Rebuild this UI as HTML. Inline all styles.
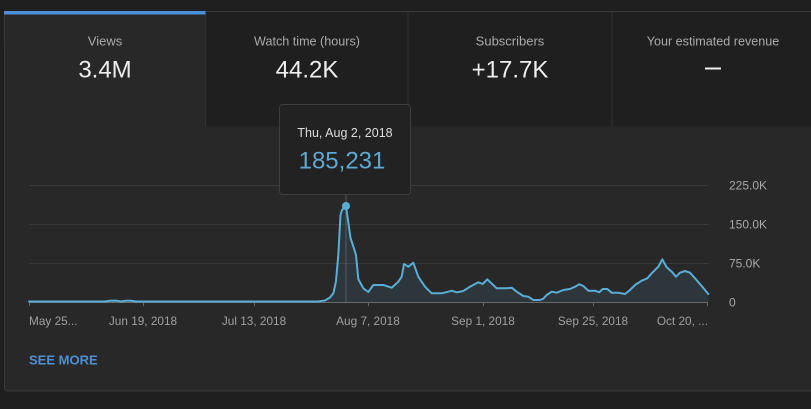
<!DOCTYPE html>
<html>
<head>
<meta charset="utf-8">
<style>
  html,body{margin:0;padding:0;background:#1f1f1f;width:811px;height:409px;overflow:hidden;}
  svg{display:block;}
  text{font-family:"Liberation Sans",Arial,sans-serif;}
</style>
</head>
<body>
<svg width="811" height="409" viewBox="0 0 811 409" xmlns="http://www.w3.org/2000/svg">
  <rect x="0" y="0" width="811" height="409" fill="#1f1f1f"/>
  <!-- card -->
  <rect x="4.5" y="11.5" width="830" height="379.5" rx="3" fill="#282828" stroke="#3a3a3a" stroke-width="1"/>
  <!-- inactive tabs -->
  <rect x="206" y="12" width="610" height="114.5" fill="#1f1f1f"/>
  <line x1="205.5" y1="12" x2="205.5" y2="126" stroke="#303030"/>
  <line x1="408" y1="12" x2="408" y2="126" stroke="#333"/>
  <line x1="612" y1="12" x2="612" y2="126" stroke="#333"/>
  <!-- active bar -->
  <rect x="4" y="11" width="201.5" height="3.5" fill="#4a8fd8"/>

  <!-- tab text -->
  <g text-anchor="middle">
    <text x="105" y="45.5" font-size="13" fill="#aaaaaa">Views</text>
    <text x="105" y="77.5" font-size="24" fill="#eeeeee">3.4M</text>
    <text x="307" y="45.5" font-size="12.6" fill="#aaaaaa">Watch time (hours)</text>
    <text x="307" y="77.5" font-size="24" fill="#eeeeee">44.2K</text>
    <text x="510" y="45.5" font-size="13" fill="#aaaaaa">Subscribers</text>
    <text x="510" y="77.5" font-size="24" fill="#eeeeee">+17.7K</text>
    <text x="713" y="45.5" font-size="12.6" fill="#aaaaaa">Your estimated revenue</text>
  </g>
  <rect x="705" y="67.5" width="16" height="2" fill="#eeeeee"/>

  <!-- gridlines -->
  <g stroke="#3a3a3a" stroke-width="1">
    <line x1="29" y1="185.5" x2="708" y2="185.5"/>
    <line x1="29" y1="224.5" x2="708" y2="224.5"/>
    <line x1="29" y1="263.5" x2="708" y2="263.5"/>
  </g>
  <!-- y labels -->
  <g font-size="12" fill="#a8a8a8">
    <text x="729" y="189.5">225.0K</text>
    <text x="729" y="228.5">150.0K</text>
    <text x="729" y="267.5">75.0K</text>
    <text x="729" y="306.5">0</text>
  </g>

  <!-- tooltip guide line -->
  <line x1="346" y1="195" x2="346" y2="302" stroke="#555" stroke-width="1"/>

  <!-- area -->
  <path fill="rgba(88,170,211,0.11)" stroke="none" d="M29,302 L29,301.5 L105,301.5 L110,300.8 L116,300.6 L121,301.5 L126,300.8 L131,300.8 L136,301.5 L318,301.5 L325,300.5 L330,297.5 L333.5,293 L336,281 L338.3,255 L340.5,215 L342,210 L346,206 L348,220 L350.5,238 L353.5,247 L356,255 L358.3,279 L363.3,288.3 L368.3,292 L373.3,285 L383.3,285 L391.7,287.7 L398.3,281.7 L401.7,276.7 L404,264 L408.3,266.7 L413.3,262.7 L418.3,276.7 L425,286.7 L431.7,293.3 L441.7,293.3 L448.3,291.7 L451.7,290.7 L456.7,292.3 L463.3,291 L470,286.7 L478.3,282.3 L482.7,284 L487.3,279.3 L496.7,288.3 L506.7,288.3 L511.7,287.7 L516.7,291.7 L523.3,296 L528.3,296.7 L533.3,300 L540,300 L543.3,298.7 L546.7,295 L551.7,291.7 L556.7,292.7 L563.3,290 L570,289 L575,286.7 L579.3,284.3 L583.3,286 L588.3,290.7 L595,290.7 L599.3,292.3 L602.7,289 L607.3,289 L611.7,292.7 L618.3,292.7 L625,294 L630,290 L635,285 L641.7,280.7 L647.3,278.3 L651.7,273.3 L658.3,266.7 L662.3,259.3 L666.7,267.3 L671.7,271.7 L676,276.7 L680,272.7 L685,271 L690,272.7 L695,278.3 L701.7,286 L708.3,294 L708.3,302 Z"/>

  <!-- baseline -->
  <line x1="29" y1="302.5" x2="708" y2="302.5" stroke="#6a6a6a" stroke-width="1"/>
  <g stroke="#666" stroke-width="1">
    <line x1="29.5" y1="302" x2="29.5" y2="306"/>
    <line x1="143.5" y1="302" x2="143.5" y2="306"/>
    <line x1="254.5" y1="302" x2="254.5" y2="306"/>
    <line x1="368.5" y1="302" x2="368.5" y2="306"/>
    <line x1="483.5" y1="302" x2="483.5" y2="306"/>
    <line x1="593.5" y1="302" x2="593.5" y2="306"/>
    <line x1="707.5" y1="302" x2="707.5" y2="306"/>
  </g>

  <!-- line -->
  <path fill="none" stroke="#5aaed6" stroke-width="2" stroke-linejoin="round" stroke-linecap="round" d="M29,301.5 L105,301.5 L110,300.8 L116,300.6 L121,301.5 L126,300.8 L131,300.8 L136,301.5 L318,301.5 L325,300.5 L330,297.5 L333.5,293 L336,281 L338.3,255 L340.5,215 L342,210 L346,206 L348,220 L350.5,238 L353.5,247 L356,255 L358.3,279 L363.3,288.3 L368.3,292 L373.3,285 L383.3,285 L391.7,287.7 L398.3,281.7 L401.7,276.7 L404,264 L408.3,266.7 L413.3,262.7 L418.3,276.7 L425,286.7 L431.7,293.3 L441.7,293.3 L448.3,291.7 L451.7,290.7 L456.7,292.3 L463.3,291 L470,286.7 L478.3,282.3 L482.7,284 L487.3,279.3 L496.7,288.3 L506.7,288.3 L511.7,287.7 L516.7,291.7 L523.3,296 L528.3,296.7 L533.3,300 L540,300 L543.3,298.7 L546.7,295 L551.7,291.7 L556.7,292.7 L563.3,290 L570,289 L575,286.7 L579.3,284.3 L583.3,286 L588.3,290.7 L595,290.7 L599.3,292.3 L602.7,289 L607.3,289 L611.7,292.7 L618.3,292.7 L625,294 L630,290 L635,285 L641.7,280.7 L647.3,278.3 L651.7,273.3 L658.3,266.7 L662.3,259.3 L666.7,267.3 L671.7,271.7 L676,276.7 L680,272.7 L685,271 L690,272.7 L695,278.3 L701.7,286 L708.3,294"/>
  <circle cx="346" cy="206" r="4" fill="#5aaed6"/>

  <!-- x labels -->
  <g font-size="11.8" fill="#a0a0a0">
    <text x="29" y="325">May 25...</text>
    <text x="143" y="325" text-anchor="middle">Jun 19, 2018</text>
    <text x="254" y="325" text-anchor="middle">Jul 13, 2018</text>
    <text x="368" y="325" text-anchor="middle">Aug 7, 2018</text>
    <text x="483" y="325" text-anchor="middle">Sep 1, 2018</text>
    <text x="593" y="325" text-anchor="middle">Sep 25, 2018</text>
    <text x="708" y="325" text-anchor="end">Oct 20, ...</text>
  </g>

  <!-- see more -->
  <text x="29" y="364.5" font-size="13" font-weight="bold" fill="#4e8fd6">SEE MORE</text>

  <!-- tooltip -->
  <rect x="279.5" y="104.5" width="131" height="90" rx="3" fill="#222222" stroke="#3e3e3e" stroke-width="1"/>
  <text x="345" y="137" font-size="12.5" fill="#dddddd" text-anchor="middle">Thu, Aug 2, 2018</text>
  <text x="342" y="168.5" font-size="24" fill="#5ea8d2" text-anchor="middle">185,231</text>
</svg>
</body>
</html>
